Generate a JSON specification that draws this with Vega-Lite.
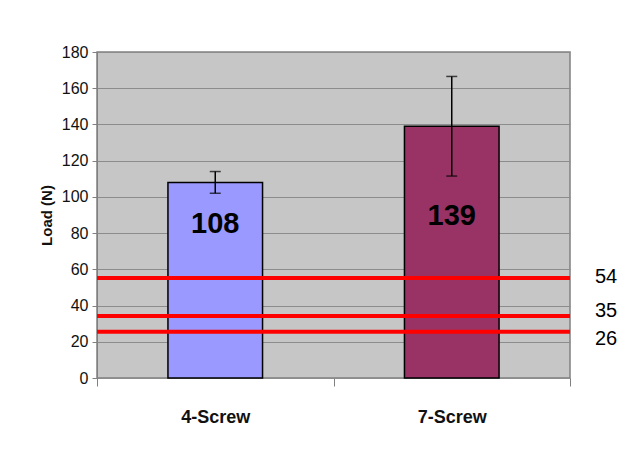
{
  "$schema": "https://vega.github.io/schema/vega-lite/v6.json",
  "width": 473,
  "height": 326,
  "autosize": {"type": "none"},
  "padding": {"left": 97, "top": 52, "right": 64, "bottom": 84},
  "background": "white",
  "config": {
    "view": {"fill": "#c6c6c6", "stroke": "#808080", "strokeWidth": 1.5},
    "font": "Liberation Sans",
    "axisX": {
      "labelAngle": 0, "domain": false, "grid": false, "ticks": true, "tickBand": "extent",
      "tickSize": 8, "tickColor": "#808080", "tickWidth": 1,
      "labelFont": "Liberation Sans", "labelFontWeight": "bold", "labelFontSize": 18,
      "labelColor": "#111", "labelPadding": 22
    },
    "axisY": {
      "labelOverlap": false, "titleFontWeight": "bold", "titleFontSize": 15, "titleColor": "#111",
      "titlePadding": 7, "labelFont": "Liberation Sans", "labelFontSize": 16,
      "labelColor": "#111", "labelPadding": 4, "tickColor": "#808080", "tickSize": 5,
      "domainColor": "#808080", "grid": true, "gridColor": "#8c8c8c", "gridWidth": 1,
      "tickCount": 10
    }
  },
  "datasets": {
    "bars": [
      {"group": "4-Screw", "load": 108, "low": 102, "high": 114, "labelAt": 85},
      {"group": "7-Screw", "load": 139, "low": 111.5, "high": 166.5, "labelAt": 89.5}
    ],
    "limits": [
      {"limit": 55.2, "label": "54", "labelAt": 55.5},
      {"limit": 34.2, "label": "35", "labelAt": 37.2},
      {"limit": 25.6, "label": "26", "labelAt": 21.5}
    ]
  },
  "layer": [
    {
      "data": {"name": "bars"},
      "mark": {"type": "bar", "stroke": "black", "strokeWidth": 1.5, "width": {"band": 0.4}},
      "encoding": {
        "x": {
          "field": "group", "type": "nominal",
          "scale": {"paddingInner": 0, "paddingOuter": 0},
          "axis": {"title": null}
        },
        "y": {
          "field": "load", "type": "quantitative",
          "scale": {"domain": [0, 180], "nice": false},
          "axis": {"title": "Load (N)", "values": [0, 20, 40, 60, 80, 100, 120, 140, 160, 180]}
        },
        "color": {
          "field": "group", "type": "nominal",
          "scale": {"domain": ["4-Screw", "7-Screw"], "range": ["#9999ff", "#993366"]},
          "legend": null
        }
      }
    },
    {
      "data": {"name": "limits"},
      "mark": {"type": "rule", "color": "#ff0000", "strokeWidth": 4},
      "encoding": {"y": {"field": "limit", "type": "quantitative", "axis": {"title": "Load (N)", "values": [0, 20, 40, 60, 80, 100, 120, 140, 160, 180]}}}
    },
    {
      "data": {"name": "bars"},
      "mark": {"type": "rule", "color": "black", "strokeWidth": 1.5},
      "encoding": {
        "x": {"field": "group", "type": "nominal"},
        "y": {"field": "low", "type": "quantitative", "axis": {"title": "Load (N)", "values": [0, 20, 40, 60, 80, 100, 120, 140, 160, 180]}},
        "y2": {"field": "high"}
      }
    },
    {
      "data": {"name": "bars"},
      "mark": {"type": "tick", "color": "black", "size": 11, "thickness": 1.5},
      "encoding": {
        "x": {"field": "group", "type": "nominal"},
        "y": {"field": "low", "type": "quantitative", "axis": {"title": "Load (N)", "values": [0, 20, 40, 60, 80, 100, 120, 140, 160, 180]}}
      }
    },
    {
      "data": {"name": "bars"},
      "mark": {"type": "tick", "color": "black", "size": 11, "thickness": 1.5},
      "encoding": {
        "x": {"field": "group", "type": "nominal"},
        "y": {"field": "high", "type": "quantitative", "axis": {"title": "Load (N)", "values": [0, 20, 40, 60, 80, 100, 120, 140, 160, 180]}}
      }
    },
    {
      "data": {"name": "bars"},
      "mark": {"type": "text", "fontSize": 29, "fontWeight": "bold", "color": "#000", "baseline": "middle", "font": "Liberation Sans"},
      "encoding": {
        "x": {"field": "group", "type": "nominal"},
        "y": {"field": "labelAt", "type": "quantitative", "axis": {"title": "Load (N)", "values": [0, 20, 40, 60, 80, 100, 120, 140, 160, 180]}},
        "text": {"field": "load"}
      }
    },
    {
      "data": {"name": "limits"},
      "mark": {"type": "text", "fontSize": 20, "color": "#000", "align": "left", "baseline": "middle", "dx": 25, "font": "Liberation Sans"},
      "encoding": {
        "x": {"value": "width"},
        "y": {"field": "labelAt", "type": "quantitative", "axis": {"title": "Load (N)", "values": [0, 20, 40, 60, 80, 100, 120, 140, 160, 180]}},
        "text": {"field": "label"}
      }
    }
  ]
}
